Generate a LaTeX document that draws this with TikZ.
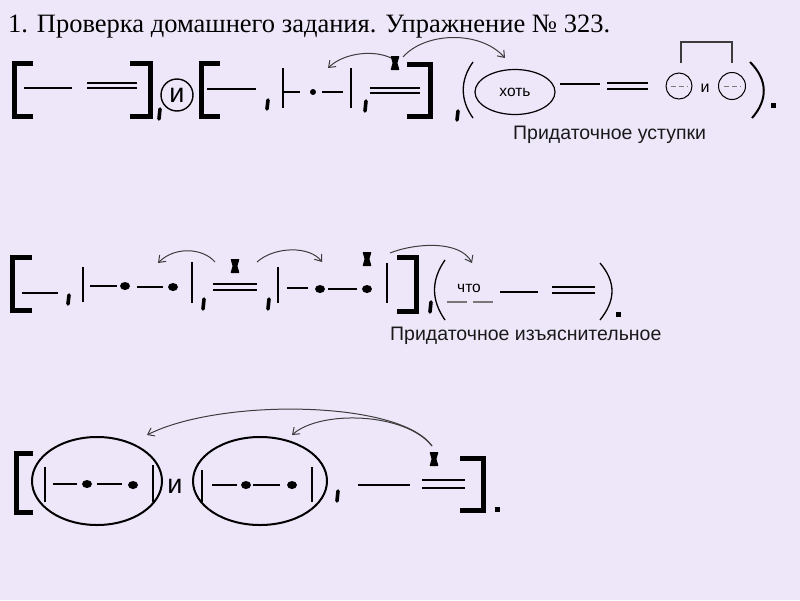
\documentclass[tikz,border=0pt]{standalone}
\usepackage{fontspec}
\setmainfont{Liberation Serif}
\newfontfamily\sansf{Liberation Sans}
\usetikzlibrary{arrows.meta,shapes.geometric}
\definecolor{bg}{RGB}{238,231,250}
\definecolor{ink}{RGB}{25,25,25}
\definecolor{arr}{RGB}{60,60,60}
\definecolor{dgray}{RGB}{120,120,120}
\tikzset{
 brk/.style={line width=5pt, line cap=butt, line join=miter},
 thinl/.style={line width=1.6pt},
 barl/.style={line width=2pt},
 dbl/.style={line width=2pt},
 comm/.style={line width=3.6pt, line cap=round},
 curv/.style={draw=arr, line width=1pt, -{Straight Barb[length=6pt,width=9pt]}},
 paren/.style={line width=1.3pt},
 lbl/.style={font=\sansf\fontsize{19.5}{20}\selectfont, text=ink, inner sep=0pt, anchor=base west},
 xm/.pic={\fill[rounded corners=0.8pt] (-4.5,-7) -- (4.5,-7) -- (2.4,0) -- (4.5,7) -- (-4.5,7) -- (-2.4,0) -- cycle;},
}
\begin{document}
\begin{tikzpicture}[x=1pt,y=-1pt]
\fill[bg] (0,0) rectangle (800,600);
\useasboundingbox (0,0) rectangle (800,600);

% title
\node[anchor=base west, inner sep=0pt, font=\fontsize{26.5}{26.5}\selectfont] (title) at (8,32) {1. Проверка домашнего задания. Упражнение № 323.};

% ================= ROW 1 =================
\draw[brk] (33,63) -| (14,116) -- (33,116);
\draw[thinl] (24,88) -- (72,88);
\draw[dbl] (87,83) -- (137,83) (87,88) -- (137,88);
\draw[brk] (130,63) -| (150,116) -- (130,116);
\draw[comm] (160,109) -- (159,119);
\node[circle, draw, line width=1.4pt, minimum size=32pt, inner sep=0pt, font=\sansf\fontsize{27}{27}\selectfont] (i1) at (177,95) {и};
\draw[brk] (220,63) -| (201,116) -- (220,116);
\draw[thinl] (207,89) -- (256,89);
\draw[comm] (268,100) -- (267,109);
\draw[barl] (283,68) -- (283,108) (351,68) -- (351,108);
\draw[thinl] (284,92) -- (300,92) (322,92) -- (343,92);
\fill (313,92) circle[radius=3pt];
\draw[comm] (366,101) -- (365,111);
\draw[dbl] (370,88) -- (420,88) (370,93) -- (420,93);
\pic at (395,63) {xm};
\coordinate (x1) at (395,63);
\draw[brk] (407,64) -| (430,116) -- (407,116);
\draw[comm] (458,111) -- (457,120);

\draw[paren] (473,62) .. controls (460,80) and (460,100) .. (473,118);
\node[ellipse, draw, line width=1.2pt, minimum width=80pt, minimum height=45pt, inner sep=0pt, font=\sansf\fontsize{15.5}{16}\selectfont] (hot) at (515,92) {хоть};
\draw[thinl] (560,84) -- (600,84);
\draw[dbl] (607,83) -- (648,83) (607,89) -- (648,89);
\node[circle, draw, line width=1pt, minimum size=26pt, inner sep=0pt] (c1) at (679,86) {};
\node[circle, draw, line width=1pt, minimum size=27pt, inner sep=0pt] (c2) at (732,86) {};
\draw[dgray, line width=1pt, dash pattern=on 5pt off 3pt] (671,86) -- (688,86);
\draw[dgray, line width=1pt, dash pattern=on 5pt off 3pt] (724,86) -- (741,86);
\node[font=\sansf\fontsize{16}{16}\selectfont, inner sep=0pt] (i2) at (705,88) {и};
\draw[arr, line width=1.2pt] (681,63) -- (681,42) -- (732,42) -- (732,63);
\draw[line width=2pt] (750,62) .. controls (768,80) and (768,100) .. (752,118);
\fill (771,103) rectangle (776,108);
\node[lbl] (ust) at (513,139) {Придаточное уступки};

% arrows row 1
\coordinate (a1s) at (391,58);
\coordinate (a1e) at (328,68);
\coordinate (b1s) at (403,57);
\coordinate (b1e) at (505,58);
\draw[curv] (a1s) .. controls (375,50) and (345,52) .. (a1e);
\draw[curv] (b1s) .. controls (425,32) and (480,30) .. (b1e);

% ================= ROW 2 =================
\draw[brk] (32,257) -| (12,310) -- (32,310);
\draw[thinl] (22,293) -- (58,293);
\draw[comm] (69,295) -- (68,304);
\draw[barl] (83,267) -- (83,302);
\draw[thinl] (90,286) -- (117,286) (137,287) -- (163,287);
\fill (125,286) ellipse[x radius=5pt, y radius=4pt];
\fill (173,287) ellipse[x radius=5pt, y radius=4pt];
\draw[barl] (192,262) -- (192,303);
\draw[comm] (204,299) -- (203,309);
\pic at (235,266) {xm};
\draw[dbl] (213,284) -- (257,284) (213,290) -- (257,290);
\draw[comm] (269,299) -- (268,309);
\draw[barl] (278,267) -- (278,303);
\draw[thinl] (287,288) -- (308,288) (328,289) -- (357,289);
\fill (320,289) ellipse[x radius=5pt, y radius=4pt];
\fill (367,289) ellipse[x radius=5pt, y radius=4pt];
\pic at (367,259) {xm};
\draw[barl] (387,263) -- (387,303);
\draw[brk] (397,257) -| (416,311) -- (397,311);
\draw[comm] (431,302) -- (430,312);

\draw[paren] (445,260) .. controls (431,280) and (431,300) .. (445,320);
\node[font=\sansf\fontsize{15.5}{16}\selectfont, inner sep=0pt] (chto) at (469,288) {что};
\draw[dgray, line width=1.2pt, dash pattern=on 20pt off 6pt] (447,302) -- (495,302);
\draw[thinl] (500,292) -- (538,292);
\draw[dbl] (552,287) -- (595,287) (552,293) -- (595,293);
\draw[paren] (600,263) .. controls (616,282) and (616,300) .. (600,320);
\fill (616,312) rectangle (621,317);
\node[lbl] (izj) at (390,340) {Придаточное изъяснительное};

\coordinate (a2s) at (215,262);
\coordinate (a2e) at (158,263);
\coordinate (b2s) at (257,262);
\coordinate (b2e) at (322,262);
\coordinate (c2s) at (390,253);
\coordinate (c2e) at (472,263);
\draw[curv] (a2s) .. controls (203,248) and (175,246) .. (a2e);
\draw[curv] (b2s) .. controls (275,246) and (310,246) .. (b2e);
\draw[curv] (c2s) .. controls (415,243) and (460,240) .. (c2e);

% ================= ROW 3 =================
\draw[brk] (33,453) -| (16,512) -- (33,512);
\node[ellipse, draw, line width=2pt, minimum width=130pt, minimum height=88pt, inner sep=0pt] (e1) at (97,481) {};
\draw[barl] (45,467) -- (45,502) (153,465) -- (153,502);
\draw[thinl] (53,484) -- (77,484) (97,484) -- (122,484);
\fill (87,484) ellipse[x radius=5pt, y radius=4pt];
\fill (133,485) ellipse[x radius=5pt, y radius=4pt];
\node[font=\sansf\fontsize{27}{27}\selectfont, inner sep=0pt] (i3) at (175,486) {и};
\node[ellipse, draw, line width=2pt, minimum width=134pt, minimum height=88pt, inner sep=0pt] (e2) at (260,481) {};
\draw[barl] (202,470) -- (202,502) (312,467) -- (312,502);
\draw[thinl] (212,485) -- (237,485) (253,485) -- (280,485);
\fill (246,485) ellipse[x radius=5pt, y radius=4pt];
\fill (292,485) ellipse[x radius=5pt, y radius=4pt];
\draw[comm] (338,491) -- (337,501);
\draw[thinl] (358,485) -- (410,485);
\draw[dbl] (422,480) -- (465,480) (422,488) -- (465,488);
\pic at (434,459) {xm};
\draw[brk] (460,458) -| (483,510) -- (460,510);
\fill (495,507) rectangle (500,512);

\coordinate (a3s) at (432,446);
\coordinate (a3e) at (147,435);
\coordinate (b3e) at (292,435);
\draw[curv] (a3s) .. controls (400,400) and (220,398) .. (a3e);
\draw[curv] (a3s) .. controls (405,412) and (320,410) .. (b3e);
\end{tikzpicture}
\end{document}
